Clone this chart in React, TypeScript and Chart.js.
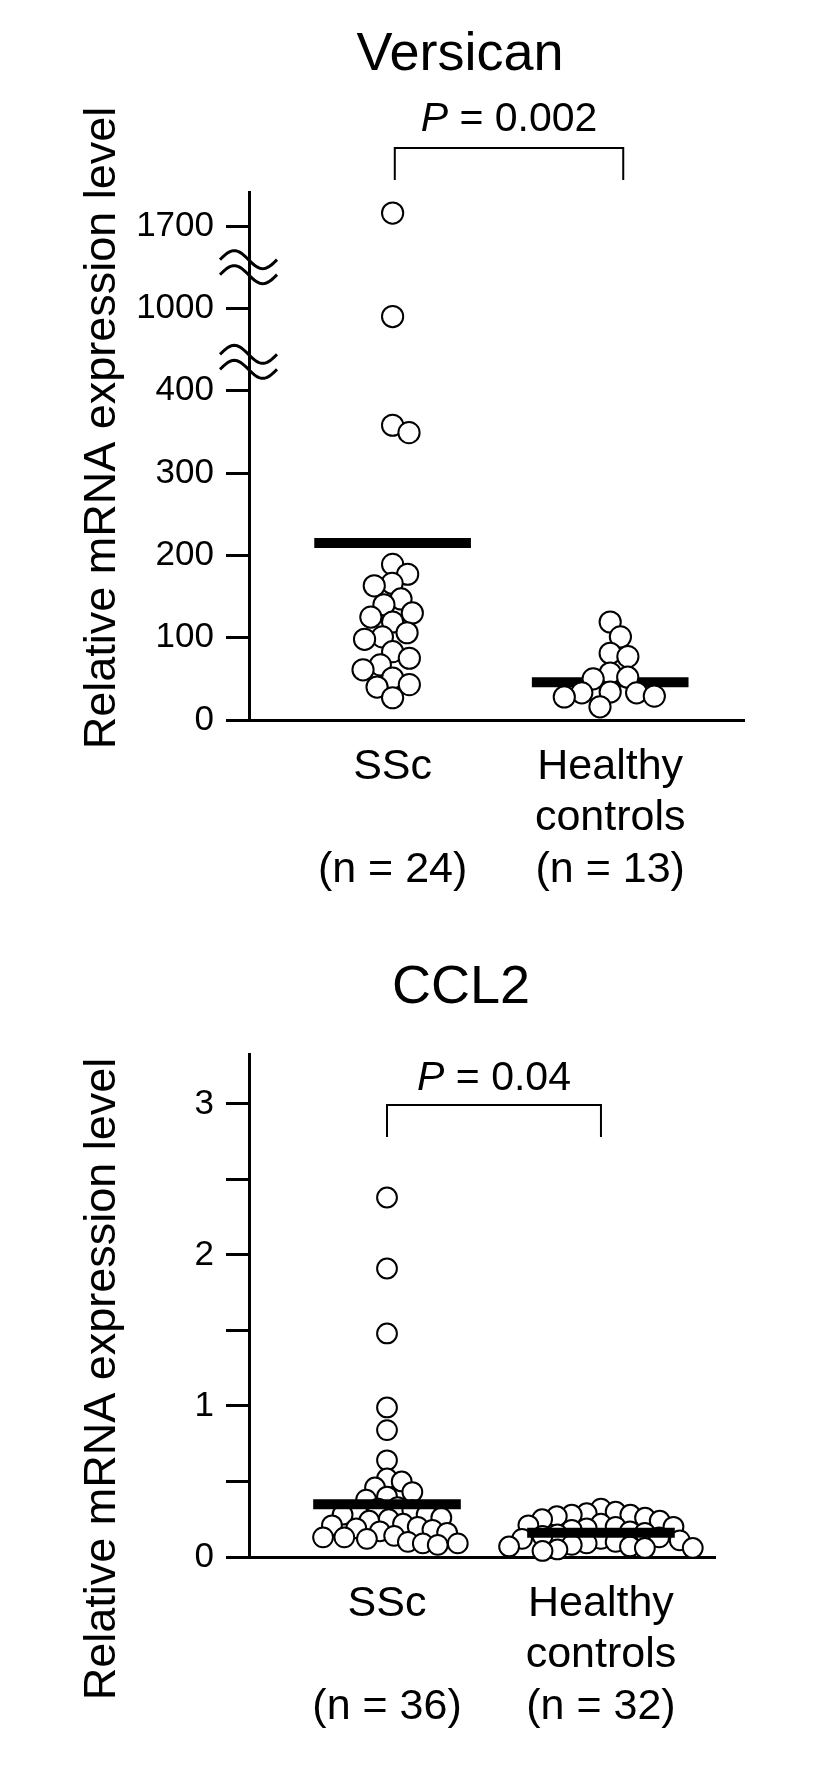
import React, { useEffect, useRef } from 'react';
import { Chart, registerables } from 'chart.js';

Chart.register(...registerables);

const FONT = '"Liberation Sans", Arial, Helvetica, sans-serif';

// ---------- Versican ----------
const versicanTitle = 'Versican';
const versicanP = '0.002';
const versicanCategories = [['SSc', '', '(n = 24)'], ['Healthy', 'controls', '(n = 13)']];
const versicanTickValues = [0, 100, 200, 300, 400, 1000, 1700];
const versicanTickLabels = ['0', '100', '200', '300', '400', '1000', '1700'];
const versicanSSc = [1810, 940, 358, 349, 189, 177, 166, 163, 147, 140, 130, 125, 119, 106, 101, 98, 83, 75, 67, 61, 51, 43, 40, 27];
const versicanHealthy = [119, 101, 81, 77, 57, 52, 50, 34, 33, 33, 29, 28, 16];
const versicanMeans = [215, 46];

// ---------- CCL2 ----------
const ccl2Title = 'CCL2';
const ccl2P = '0.04';
const ccl2Categories = [['SSc', '', '(n = 36)'], ['Healthy', 'controls', '(n = 32)']];
const ccl2TickValues = [0, 0.5, 1, 1.5, 2, 2.5, 3];
const ccl2TickLabels = ['0', '', '1', '', '2', '', '3'];
const ccl2SSc = [2.38, 1.91, 1.48, 0.99, 0.84, 0.64, 0.52, 0.5, 0.46, 0.43, 0.4, 0.38,
  0.33, 0.32, 0.31, 0.3, 0.28, 0.28, 0.26, 0.25, 0.24, 0.22, 0.21, 0.2,
  0.19, 0.18, 0.17, 0.16, 0.14, 0.13, 0.13, 0.12, 0.1, 0.09, 0.09, 0.08];
const ccl2Healthy = [0.32, 0.3, 0.29, 0.28, 0.28, 0.27, 0.26, 0.25, 0.24, 0.22, 0.21, 0.2, 0.2, 0.19, 0.18, 0.17,
  0.16, 0.15, 0.14, 0.13, 0.12, 0.12, 0.11, 0.1, 0.09, 0.08, 0.07, 0.07, 0.06, 0.06, 0.05, 0.04];
const ccl2Means = [0.35, 0.16];

const yAxisTitle = 'Relative mRNA expression level';

// piecewise transform for a broken axis: tick values sit at equally spaced units
function makeBrokenTransform(tickValues: number[]) {
  return (v: number) => {
    for (let i = 0; i < tickValues.length - 1; i++) {
      if (v <= tickValues[i + 1]) {
        return i + (v - tickValues[i]) / (tickValues[i + 1] - tickValues[i]);
      }
    }
    const n = tickValues.length - 1;
    return n + (v - tickValues[n]) / (tickValues[n] - tickValues[n - 1]);
  };
}

function swarmOffsets(ys: number[], minDist: number): number[] {
  const idx = ys.map((_, i) => i).sort((a, b) => ys[a] - ys[b]);
  const placed: { x: number; y: number }[] = [];
  const out = new Array(ys.length).fill(0);
  const md2 = minDist * minDist;
  let flip = 1;
  for (const i of idx) {
    const y = ys[i];
    const cands = [0];
    for (const p of placed) {
      const dy = Math.abs(p.y - y);
      if (dy < minDist) {
        const dx = Math.sqrt(md2 - dy * dy);
        cands.push(p.x - dx, p.x + dx);
      }
    }
    cands.sort((a, b) => Math.abs(a) - Math.abs(b) || (a - b) * flip);
    flip = -flip;
    let chosen = 0;
    for (const c of cands) {
      if (placed.every((p) => (p.x - c) ** 2 + (p.y - y) ** 2 >= md2 - 0.01)) {
        chosen = c;
        break;
      }
    }
    placed.push({ x: chosen, y });
    out[i] = chosen;
  }
  return out;
}

type Panel = {
  title: string;
  pValue: string;
  categories: string[][];
  groups: number[][];
  means: number[];
  toUnit: (v: number) => number;
  tickUnits: number[];
  tickLabels: string[];
  yMax: number;
  xMin: number;
  xMax: number;
  width: number;
  height: number;
  area: { left: number; right: number; top: number; bottom: number };
  radius: number;
  minDist: number;
  meanHalf: number;
  pointsOnTop: boolean;
  breaks: number[];
  titleX: number;
  titleBase: number;
  pX: number;
  pBase: number;
  bracketX: [number, number];
  bracketTop: number;
  bracketBottom: number;
  yTitleX: number;
  yTitleY: number;
};

function DotPlot({ panel }: { panel: Panel }) {
  const ref = useRef<HTMLCanvasElement | null>(null);
  useEffect(() => {
    const canvas = ref.current;
    if (!canvas) return;
    const p = panel;

    const decor = {
      id: 'decor',
      afterDraw(chart: any) {
        const ctx = chart.ctx as CanvasRenderingContext2D;
        const xs = chart.scales.x;
        const ys = chart.scales.y;
        ctx.save();
        ctx.fillStyle = '#000';
        ctx.strokeStyle = '#000';
        // title
        ctx.font = `54px ${FONT}`;
        ctx.textAlign = 'center';
        ctx.textBaseline = 'alphabetic';
        ctx.fillText(p.title, p.titleX, p.titleBase);
        // P value
        const ps = 41;
        ctx.font = `italic ${ps}px ${FONT}`;
        const wP = ctx.measureText('P').width;
        ctx.font = `${ps}px ${FONT}`;
        const rest = ' = ' + p.pValue;
        const wR = ctx.measureText(rest).width;
        const x0 = p.pX - (wP + wR) / 2;
        ctx.textAlign = 'left';
        ctx.font = `italic ${ps}px ${FONT}`;
        ctx.fillText('P', x0, p.pBase);
        ctx.font = `${ps}px ${FONT}`;
        ctx.fillText(rest, x0 + wP, p.pBase);
        // bracket
        const bx0 = xs.getPixelForValue(p.bracketX[0]);
        const bx1 = xs.getPixelForValue(p.bracketX[1]);
        ctx.lineWidth = 2;
        ctx.beginPath();
        ctx.moveTo(bx0, p.bracketBottom);
        ctx.lineTo(bx0, p.bracketTop);
        ctx.lineTo(bx1, p.bracketTop);
        ctx.lineTo(bx1, p.bracketBottom);
        ctx.stroke();
        // y title
        ctx.save();
        ctx.translate(p.yTitleX, p.yTitleY);
        ctx.rotate(-Math.PI / 2);
        ctx.font = `45px ${FONT}`;
        ctx.textAlign = 'center';
        ctx.textBaseline = 'alphabetic';
        ctx.fillText(yAxisTitle, 0, 0);
        ctx.restore();
        // axis breaks
        const ax = chart.chartArea.left;
        ctx.lineWidth = 3;
        for (const b of p.breaks) {
          const yc = ys.getPixelForValue(b);
          for (const off of [-7.5, 7.5]) {
            ctx.beginPath();
            const w = 57;
            for (let k = 0; k <= 40; k++) {
              const t = k / 40;
              const x = ax - 29 + t * w;
              const y = yc + off - 9 * Math.sin(2 * Math.PI * t);
              if (k === 0) ctx.moveTo(x, y);
              else ctx.lineTo(x, y);
            }
            ctx.stroke();
          }
        }
        ctx.restore();
      },
    };

    const pointSets = p.groups.map((g, gi) => ({
      type: 'scatter' as const,
      data: g.map((v) => ({ x: gi, y: p.toUnit(v) })),
      pointRadius: p.radius,
      pointHoverRadius: p.radius,
      pointBackgroundColor: '#ffffff',
      pointBorderColor: '#000000',
      pointBorderWidth: 2,
      showLine: false,
      clip: false as any,
      order: p.pointsOnTop ? 0 : 1,
    }));
    const meanSets = p.means.map((m, gi) => ({
      type: 'line' as const,
      data: [
        { x: gi - p.meanHalf, y: p.toUnit(m) },
        { x: gi + p.meanHalf, y: p.toUnit(m) },
      ],
      borderColor: '#000000',
      borderWidth: 10,
      borderCapStyle: 'butt' as const,
      pointRadius: 0,
      showLine: true,
      fill: false,
      clip: false as any,
      order: p.pointsOnTop ? 1 : 0,
    }));

    const chart = new Chart(canvas, {
      type: 'scatter',
      data: { datasets: [...pointSets, ...meanSets] as any },
      options: {
        responsive: false,
        animation: false,
        events: [],
        layout: {
          padding: { left: 0, top: p.area.top, right: p.width - p.area.right, bottom: 0 },
        },
        plugins: {
          legend: { display: false },
          tooltip: { enabled: false },
          title: { display: false },
        },
        scales: {
          x: {
            type: 'linear',
            min: p.xMin,
            max: p.xMax,
            afterBuildTicks: (s: any) => {
              s.ticks = p.categories.map((_, i) => ({ value: i }));
            },
            afterFit: (s: any) => {
              s.height = p.height - p.area.bottom;
            },
            grid: { display: false, drawTicks: false },
            border: { display: true, color: '#000', width: 3 },
            ticks: {
              color: '#000',
              font: { family: FONT, size: 43, lineHeight: 1.2 },
              padding: 21,
              maxRotation: 0,
              autoSkip: false,
              callback: (v: any) => p.categories[Math.round(Number(v))] as any,
            },
          },
          y: {
            type: 'linear',
            min: 0,
            max: p.yMax,
            afterBuildTicks: (s: any) => {
              s.ticks = p.tickUnits.map((v) => ({ value: v }));
            },
            afterFit: (s: any) => {
              s.width = p.area.left;
            },
            grid: {
              display: true,
              drawOnChartArea: false,
              drawTicks: true,
              tickLength: 23,
              tickWidth: 3,
              lineWidth: 3,
              color: '#000',
            },
            border: { display: true, color: '#000', width: 3 },
            ticks: {
              color: '#000',
              font: { family: FONT, size: 35 },
              padding: 12,
              autoSkip: false,
              callback: (_v: any, i: number) => p.tickLabels[i],
            },
          },
        },
      },
      plugins: [decor],
    });

    // beeswarm layout computed in pixel space through the chart's scales
    const xs: any = chart.scales.x;
    const ysc: any = chart.scales.y;
    const pxPerUnit = xs.getPixelForValue(1) - xs.getPixelForValue(0);
    p.groups.forEach((g, gi) => {
      const ypx = g.map((v) => ysc.getPixelForValue(p.toUnit(v)));
      const offs = swarmOffsets(ypx, p.minDist);
      (chart.data.datasets[gi] as any).data = g.map((v, k) => ({
        x: gi + offs[k] / pxPerUnit,
        y: p.toUnit(v),
      }));
    });
    chart.update('none');

    return () => chart.destroy();
  }, [panel]);
  return (
    <canvas
      ref={ref}
      width={panel.width}
      height={panel.height}
      style={{ display: 'block', width: panel.width, height: panel.height }}
    />
  );
}

const versicanToUnit = makeBrokenTransform(versicanTickValues);

const topPanel: Panel = {
  title: versicanTitle,
  pValue: versicanP,
  categories: versicanCategories,
  groups: [versicanSSc, versicanHealthy],
  means: versicanMeans,
  toUnit: versicanToUnit,
  tickUnits: versicanTickValues.map((v) => versicanToUnit(v)),
  tickLabels: versicanTickLabels,
  yMax: 6.413,
  xMin: -0.66,
  xMax: 1.615,
  width: 827,
  height: 900,
  area: { left: 249, right: 744, top: 192, bottom: 720 },
  radius: 10.6,
  minDist: 18,
  meanHalf: 0.36,
  pointsOnTop: true,
  breaks: [4.35, 5.5],
  titleX: 460,
  titleBase: 70,
  pX: 509,
  pBase: 131,
  bracketX: [0.01, 1.06],
  bracketTop: 148,
  bracketBottom: 180,
  yTitleX: 115,
  yTitleY: 428,
};

const bottomPanel: Panel = {
  title: ccl2Title,
  pValue: ccl2P,
  categories: ccl2Categories,
  groups: [ccl2SSc, ccl2Healthy],
  means: ccl2Means,
  toUnit: (v: number) => v,
  tickUnits: ccl2TickValues,
  tickLabels: ccl2TickLabels,
  yMax: 3.33,
  xMin: -0.645,
  xMax: 1.533,
  width: 827,
  height: 884,
  area: { left: 249, right: 715, top: 154, bottom: 657 },
  radius: 9.9,
  minDist: 15,
  meanHalf: 0.345,
  pointsOnTop: false,
  breaks: [],
  titleX: 461,
  titleBase: 103,
  pX: 494,
  pBase: 190,
  bracketX: [0, 1],
  bracketTop: 205,
  bracketBottom: 237,
  yTitleX: 115,
  yTitleY: 479,
};

export default function App() {
  return (
    <div style={{ position: 'absolute', left: 0, top: 0, width: 827, height: 1784, background: '#fff' }}>
      <DotPlot panel={topPanel} />
      <DotPlot panel={bottomPanel} />
    </div>
  );
}
